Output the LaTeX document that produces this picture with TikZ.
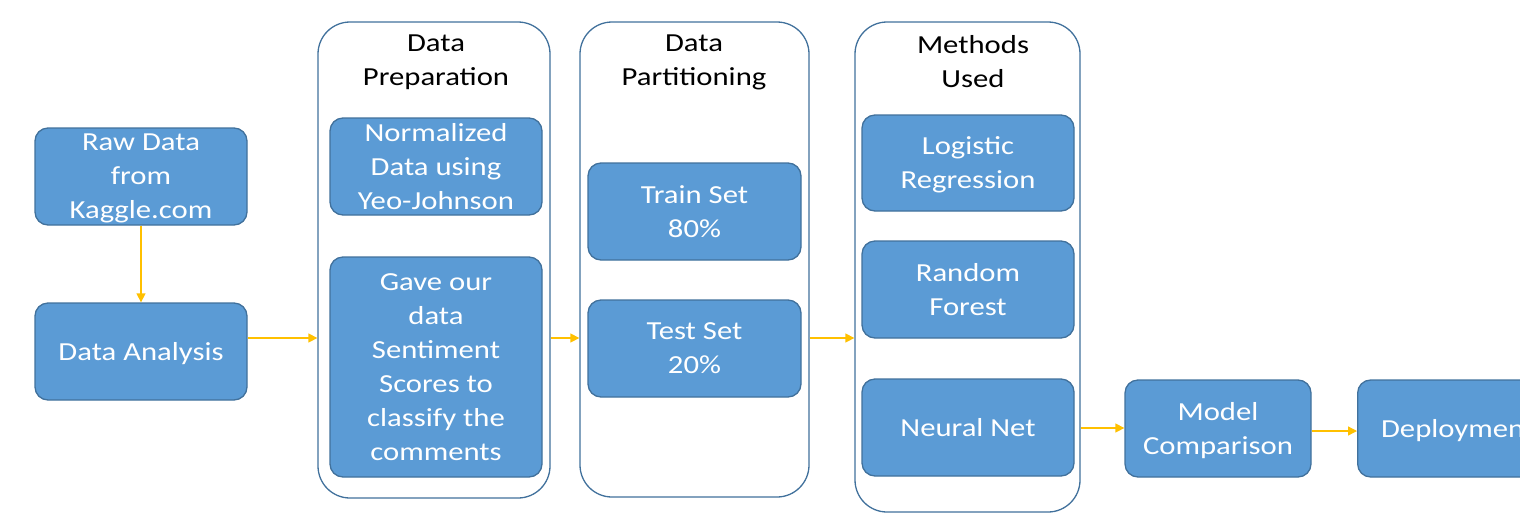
\documentclass[tikz,border=0pt]{standalone}
\usepackage{fontspec}
\setmainfont{Carlito}[FakeStretch=1.18]
\usetikzlibrary{arrows.meta}
\definecolor{boxfill}{HTML}{5B9BD5}
\definecolor{boxline}{HTML}{41719C}
\definecolor{arr}{HTML}{FFC000}
\tikzset{
  bluebox/.style={draw=boxline, line width=1.3pt, fill=boxfill, rounded corners=13pt, align=center, text=white, font=\fontsize{26}{34}\selectfont, inner sep=0pt, text depth=0pt},
  container/.style={draw=boxline, line width=1.3pt, fill=white, rounded corners=32pt},
  ttl/.style={align=center, text=black, font=\fontsize{26}{34}\selectfont, inner sep=0pt},
  flow/.style={draw=arr, line width=1.3pt, -{Triangle[length=9pt,width=9pt]}}
}
\begin{document}
\begin{tikzpicture}[x=1pt,y=-1pt]
\useasboundingbox (0,0) rectangle (1520,512);
\clip (0,0) rectangle (1520,512);
% containers
\node[container, minimum width=232pt, minimum height=476pt] (prep) at (434,260) {};
\node[container, minimum width=229pt, minimum height=475pt] (part) at (694.5,259.5) {};
\node[container, minimum width=225pt, minimum height=490pt] (meth) at (967.5,267) {};
\node[ttl] (prept) at (436,62) {Data\\Preparation};
\node[ttl] (partt) at (694,62) {Data\\Partitioning};
\node[ttl] (metht) at (973,62) {Methods\\Used};
% boxes
\node[bluebox, minimum width=212pt, minimum height=97pt] (raw) at (141,176.5) {Raw Data\\from\\Kaggle.com};
\node[bluebox, minimum width=212pt, minimum height=97pt] (ana) at (141,351.5) {Data Analysis};
\node[bluebox, minimum width=212pt, minimum height=97pt] (norm) at (436,166.5) {Normalized\\Data using\\Yeo-Johnson};
\node[bluebox, minimum width=212pt, minimum height=220pt] (sent) at (436,367) {Gave our\\data\\Sentiment\\Scores to\\classify the\\comments};
\node[bluebox, minimum width=213pt, minimum height=97pt] (train) at (694.5,211.5) {Train Set\\80\%};
\node[bluebox, minimum width=213pt, minimum height=97pt] (test) at (694.5,348.5) {Test Set\\20\%};
\node[bluebox, minimum width=212pt, minimum height=96pt] (lr) at (968,163) {Logistic\\Regression};
\node[bluebox, minimum width=212pt, minimum height=97pt] (rf) at (968,289.5) {Random\\Forest};
\node[bluebox, minimum width=212pt, minimum height=97pt] (nn) at (968,427.5) {Neural Net};
\node[bluebox, minimum width=186pt, minimum height=97pt] (mc) at (1218,428.5) {Model\\Comparison};
\node[bluebox, minimum width=200pt, minimum height=97pt, anchor=west] (dep) at (1357,428.5) {Deployment};
% arrows
\coordinate (ya) at (0,338);
\coordinate (yb) at (0,428);
\coordinate (yc) at (0,431);
\draw[flow] (raw) -- (ana);
\draw[flow] (ana.east |- ya) -- (prep.west |- ya);
\draw[flow] (prep.east |- ya) -- (part.west |- ya);
\draw[flow] (part.east |- ya) -- (meth.west |- ya);
\draw[flow] (meth.east |- yb) -- (mc.west |- yb);
\draw[flow] (mc.east |- yc) -- (dep.west |- yc);
\end{tikzpicture}
\end{document}
